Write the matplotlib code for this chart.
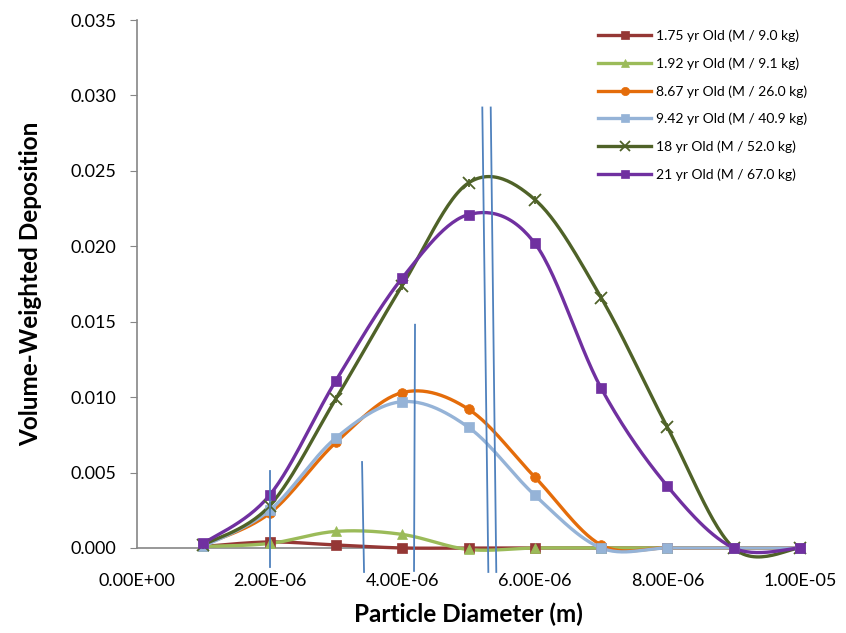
import matplotlib
matplotlib.use("Agg")
import matplotlib.pyplot as plt
import numpy as np
from matplotlib.ticker import FuncFormatter, MultipleLocator

# particle diameters (m)
diameters = [1e-6, 2e-6, 3e-6, 4e-6, 5e-6, 6e-6, 7e-6, 8e-6, 9e-6, 1e-5]

# volume-weighted deposition per subject
dep_175 = [0.0001, 0.0004, 0.0002, 0.0000, 0.0000, 0.0000, 0.0000, 0.0000, 0.0000, 0.0000]
dep_192 = [0.0001, 0.0003, 0.0011, 0.0009, -0.0001, 0.0000, 0.0000, 0.0000, 0.0000, 0.0000]
dep_867 = [0.0002, 0.0023, 0.0070, 0.0103, 0.0092, 0.0047, 0.0002, 0.0000, 0.0000, 0.0000]
dep_942 = [0.0001, 0.0025, 0.0073, 0.0097, 0.0080, 0.0035, 0.0000, 0.0000, 0.0000, 0.0000]
dep_18 = [0.0002, 0.0028, 0.0099, 0.0174, 0.0242, 0.0231, 0.0166, 0.0080, 0.0000, 0.0000]
dep_21 = [0.0003, 0.0035, 0.0111, 0.0179, 0.0221, 0.0202, 0.0106, 0.0041, 0.0000, 0.0000]

labels = ["1.75 yr Old (M / 9.0 kg)", "1.92 yr Old (M / 9.1 kg)",
          "8.67 yr Old (M / 26.0 kg)", "9.42 yr Old (M / 40.9 kg)",
          "18 yr Old (M / 52.0 kg)", "21 yr Old (M / 67.0 kg)"]

# hand-drawn blue marker lines on the chart: (x_top, y_top, x_bottom, y_bottom)
marker_lines = [
    (2.006e-6, 0.0051, 2.006e-6, -0.00126),
    (3.394e-6, 0.0057, 3.424e-6, -0.00159),
    (4.193e-6, 0.0148, 4.178e-6, -0.00152),
    (5.208e-6, 0.0292, 5.299e-6, -0.00159),
    (5.335e-6, 0.0292, 5.419e-6, -0.00159),
]


def smooth(x, y, n=30):
    """Excel-style smoothed line (Catmull-Rom bezier)."""
    x = np.asarray(x, float)
    y = np.asarray(y, float)
    pts = np.column_stack([x, y])
    out = []
    t = np.linspace(0, 1, n)[:, None]
    for i in range(len(pts) - 1):
        p0 = pts[max(i - 1, 0)]
        p1 = pts[i]
        p2 = pts[i + 1]
        p3 = pts[min(i + 2, len(pts) - 1)]
        c1 = p1 + (p2 - p0) / 6
        c2 = p2 - (p3 - p1) / 6
        seg = ((1 - t) ** 3) * p1 + 3 * ((1 - t) ** 2) * t * c1 + 3 * (1 - t) * t ** 2 * c2 + t ** 3 * p2
        out.append(seg if i == 0 else seg[1:])
    out = np.vstack(out)
    return out[:, 0], out[:, 1]


plt.rcParams['font.family'] = ['Lato', 'DejaVu Sans']

fig = plt.figure(figsize=(8.46, 6.33), dpi=100)
ax = fig.add_axes([0.162, 0.1343, 0.7836, 0.8341])

series = [
    (dep_175, "#953735", "s", 7),
    (dep_192, "#9BBB59", "^", 7),
    (dep_867, "#E46C0A", "o", 7),
    (dep_942, "#95B3D7", "s", 7),
    (dep_18, "#4F6228", "x", 8),
    (dep_21, "#7030A0", "s", 7.5),
]

for (vals, color, mk, ms), lab in zip(series, labels):
    sx, sy = smooth(diameters, vals)
    ax.plot(sx, sy, color=color, lw=2.4, solid_capstyle='round', zorder=3, clip_on=False)
    ax.plot(diameters, vals, linestyle='none', marker=mk, color=color, clip_on=False,
            markersize=ms, markeredgewidth=1.3 if mk == 'x' else 0.5, zorder=4)
    if mk == 'x':
        ax.plot(diameters, vals, linestyle='none', marker='|', color=color, clip_on=False,
                markersize=ms * 0.8, markeredgewidth=1.3, zorder=4)
    # legend proxy
    ax.plot([], [], color=color, lw=2.4, marker=mk, markersize=ms * 0.85,
            markeredgewidth=1.3 if mk == 'x' else 0.5, label=lab)

for x0, y0, x1, y1 in marker_lines:
    ax.plot([x0, x1], [y0, y1], color="#4F81BD", lw=1.3, zorder=5, clip_on=False)

ax.set_xlim(0, 1e-5)
ax.set_ylim(0, 0.035)
ax.xaxis.set_major_locator(MultipleLocator(2e-6))
ax.yaxis.set_major_locator(MultipleLocator(0.005))
ax.xaxis.set_major_formatter(FuncFormatter(lambda v, p: f"{v:.2E}"))
ax.yaxis.set_major_formatter(FuncFormatter(lambda v, p: f"{v:.3f}"))

for side in ['top', 'right']:
    ax.spines[side].set_visible(False)
for side in ['left', 'bottom']:
    ax.spines[side].set_color("#868686")
    ax.spines[side].set_linewidth(1.2)

ax.tick_params(axis='y', length=5, color="#868686", labelsize=13, pad=10)
ax.tick_params(axis='x', length=0, labelsize=13, pad=18)

ax.set_xlabel("Particle Diameter (m)", fontsize=17.5, fontweight='bold', labelpad=10)
ax.set_ylabel("Volume-Weighted Deposition", fontsize=17.5, fontweight='bold', labelpad=20)

leg = ax.legend(loc='upper right', bbox_to_anchor=(1.03, 1.006), frameon=False,
                fontsize=10, handlelength=3.8, labelspacing=1.1, handletextpad=0.36)

fig.savefig("out.png", dpi=100)
